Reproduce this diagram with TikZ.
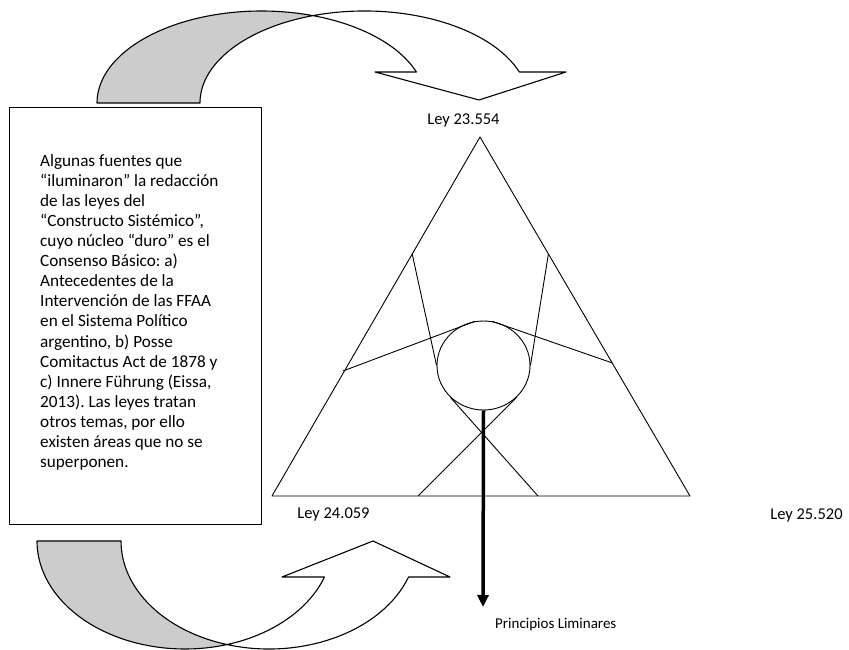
\documentclass[tikz,border=0pt]{standalone}
\usepackage{fontspec}
\setmainfont{Carlito}
\usetikzlibrary{arrows.meta,shapes.geometric}
\definecolor{shadegray}{HTML}{CCCCCC}
\frenchspacing
\begin{document}
\begin{tikzpicture}[x=1pt,y=-1pt,line join=round,
  outline/.style={draw=black,line width=1.1pt},
  thinline/.style={draw=black,line width=0.9pt},
  lbl/.style={font=\fontsize{16.5}{20}\selectfont,inner sep=0pt}]
\useasboundingbox (0,0) rectangle (849,650);
\fill[white] (0,0) rectangle (849,650);
% top curved arrow
\draw[outline,fill=shadegray] (97,103)
  arc[start angle=180,end angle=288.24,x radius=164.5,y radius=92]
  arc[start angle=251.76,end angle=180,x radius=164.5,y radius=92] -- cycle;
\draw[outline,fill=white] (313,15.62)
  arc[start angle=251.76,end angle=340.3,x radius=164.5,y radius=92]
  -- (566,72) -- (479,100) -- (375,72) -- (416.4,72)
  arc[start angle=340.3,end angle=288.24,x radius=164.5,y radius=92] -- cycle;
% bottom curved arrow
\draw[outline,fill=shadegray] (37,541)
  arc[start angle=180,end angle=73.51,x radius=148,y radius=108]
  arc[start angle=106.49,end angle=180,x radius=148,y radius=108] -- cycle;
\draw[outline,fill=white] (227,644.56)
  arc[start angle=106.49,end angle=19.47,x radius=148,y radius=108]
  -- (450,577) -- (373,541) -- (282,577) -- (324.5,577)
  arc[start angle=19.47,end angle=73.51,x radius=148,y radius=108] -- cycle;
% text box
\node[draw,line width=1.1pt,minimum width=252,minimum height=417,inner sep=0,anchor=north west] (box) at (9,107) {};
\node[anchor=north west,align=left,inner sep=0,font=\fontsize{17.2}{20.1}\selectfont] (txt) at (40,154) {Algunas fuentes que\\
“iluminaron” la redacción\\
de las leyes del\\
“Constructo Sistémico”,\\
cuyo núcleo “duro” es el\\
Consenso Básico: a)\\
Antecedentes de la\\
Intervención de las FFAA\\
en el Sistema Político\\
argentino, b) Posse\\
Comitactus Act de 1878 y\\
c) Innere Führung (Eissa,\\
2013). Las leyes tratan\\
otros temas, por ello\\
existen áreas que no se\\
superponen.};
% triangle
\coordinate (ta) at (480,137);
\coordinate (tb) at (272,496);
\coordinate (tc) at (690,496);
\draw[thinline] (ta) -- (tb) -- (tc) -- cycle;
\node[draw,thinline,ellipse,minimum width=93,minimum height=89,inner sep=0] (core) at (483.5,365.5) {};
\coordinate (p1) at (412.2,254);
\coordinate (p2) at (548.4,254);
\coordinate (p3) at (343,371);
\coordinate (p4) at (612.5,363);
\coordinate (q1) at (418,496);
\coordinate (q2) at (538,496);
\draw[thinline] (p1) -- (core.west);
\draw[thinline] (p2) -- (core.east);
\draw[thinline] (p3) -- (core.101);
\draw[thinline] (p4) -- (core.79);
\draw[thinline] (core.224) -- (q2);
\draw[thinline] (core.316) -- (q1);
\coordinate (pl) at (483,607);
\draw[line width=3.5pt,-{Triangle[length=12pt,width=11pt]}] (core.south) -- (pl);
% labels
\node[lbl] (l1) at (463.5,120) {Ley 23.554};
\node[lbl] (l2) at (333.5,514) {Ley 24.059};
\node[lbl] (l3) at (806.5,515) {Ley 25.520};
\node[lbl,font=\fontsize{15}{18}\selectfont,anchor=west] (l4) at (495,625) {Principios Liminares};
\end{tikzpicture}
\end{document}
